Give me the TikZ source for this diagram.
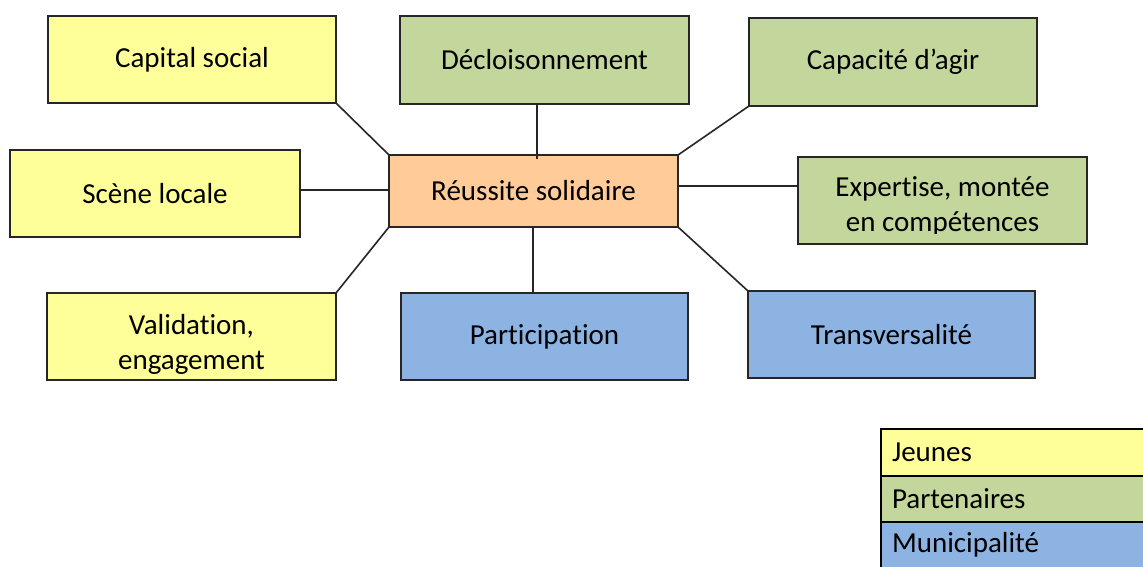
\documentclass[tikz,border=0pt]{standalone}
\usepackage{fontspec}
\setmainfont{Carlito}[Ligatures={NoCommon,NoContextual}]
\newcommand\tI{t\kern0pt i}
\definecolor{yel}{HTML}{FFFF99}
\definecolor{grn}{HTML}{C3D69B}
\definecolor{blu}{HTML}{8DB3E2}
\definecolor{org}{HTML}{FFCC99}
\tikzset{
  box/.style={draw=black!85, line width=1.6pt, inner sep=0pt, outer sep=0pt,
    minimum width=288pt, minimum height=87pt, align=center,
    font=\fontsize{29}{35}\selectfont},
  txt/.style={inner sep=0pt, align=center, font=\fontsize{29}{35}\selectfont},
  link/.style={line width=1.6pt, draw=black!85},
  leg/.style={inner sep=0pt, outer sep=0pt,
    minimum width=300pt, minimum height=46.5pt, anchor=north west,
    text width=288pt, align=left, font=\fontsize{29}{35}\selectfont},
  legline/.style={draw=black, line width=2pt}
}
\begin{document}
\begin{tikzpicture}
\clip (0,0) rectangle (1143pt,-566pt);
\fill[white] (0,0) rectangle (1143pt,-566pt);
% boxes
\node[box, fill=yel] (cap) at (192pt,-59.5pt) {Capital social};
\node[box, fill=grn, minimum width=289pt, minimum height=88pt] (dec) at (544.5pt,-60pt) {Décloisonnement};
\node[box, fill=grn, minimum width=288pt, minimum height=88pt] (capa) at (893pt,-62pt) {Capacité d’agir};
\node[box, fill=yel, minimum width=290pt] (scene) at (155pt,-193.5pt) {Scène locale};
\node[box, fill=org, minimum width=289pt, minimum height=72pt] (ctr) at (533.5pt,-191pt) {Réussite solidaire};
\node[box, fill=grn, minimum width=289pt] (exp) at (942.5pt,-200.5pt) {};
\node[box, fill=yel, minimum width=289pt] (val) at (191.5pt,-336.5pt) {};
\node[box, fill=blu, minimum width=287pt] (part) at (544.5pt,-336.5pt) {\raisebox{-2pt}{Par\tI cipa\tI on}};
\node[box, fill=blu, minimum width=287pt] (trans) at (891.5pt,-334.5pt) {Transversalité};
% clipped two-line texts
\begin{scope}
  \clip ([yshift=11pt]exp.south west) rectangle (exp.north east);
  \node[txt] (exptxt) at (942.5pt,-206pt) {Exper\tI se, montée\\en compétences};
\end{scope}
\begin{scope}
  \clip ([yshift=6pt]val.south west) rectangle (val.north east);
  \node[txt] (valtxt) at (191.5pt,-344pt) {Valida\tI on,\\engagement};
\end{scope}
% connectors
\draw[link] (cap.south east) -- (ctr.north west);
\draw[link] ([xshift=3.5pt,yshift=-4pt]ctr.north) -- ([xshift=3.5pt]ctr.north |- dec.south);
\draw[link] (capa.south west) -- (ctr.north east);
\draw[link] ([yshift=1pt]ctr.west) -- ([yshift=1pt]ctr.west -| scene.east);
\draw[link] ([yshift=5pt]ctr.east) -- ([yshift=5pt]ctr.east -| exp.west);
\draw[link] (val.north east) -- (ctr.south west);
\draw[link] ([xshift=-0.5pt]ctr.south) -- ([xshift=-0.5pt]ctr.south |- part.north);
\draw[link] (trans.north west) -- (ctr.south east);
% legend
\node[leg, fill=yel] (lj) at (881pt,-429pt) {\hspace*{5pt}Jeunes};
\node[leg, fill=grn] (lp) at (lj.south west) {\hspace*{5pt}Partenaires};
\node[leg, fill=blu] (lm) at (lp.south west) {\hspace*{5pt}Municipalité};
\draw[legline] (lm.south east) -- (lj.north east) -- (lj.north west) -- (lm.south west);
\draw[legline] (lj.south west) -- (lj.south east);
\draw[legline] (lp.south west) -- (lp.south east);
\end{tikzpicture}
\end{document}
